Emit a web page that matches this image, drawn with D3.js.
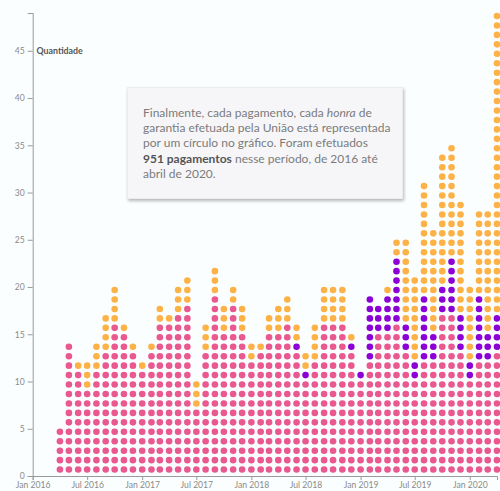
<!DOCTYPE html>
<html><head><meta charset="utf-8">
<script src="https://cdn.jsdelivr.net/npm/d3@7"></script>
<style>
html,body{margin:0;padding:0;background:#fbfefe;}
#wrap{position:relative;width:500px;height:491px;overflow:hidden;}
svg{position:absolute;left:0;top:0;}
.note{position:absolute;left:127px;top:87px;width:276px;height:112px;box-sizing:border-box;
  background:#f6f6f9;border:1px solid #ececf0;box-shadow:1px 2px 3px rgba(0,0,0,0.28);
  padding:17px 0 0 15px;font-family:Lato,"Open Sans",sans-serif;font-size:12px;line-height:15.2px;color:#7b7b7b;white-space:nowrap;}
.note b{color:#555;font-weight:700;}
.axis text{font-family:Lato,"Open Sans",sans-serif;font-size:8.6px;fill:#8a8a8a;}
.axis path,.axis line{stroke:#9a9a9a;}
</style></head>
<body><div id="wrap"></div>
<script>
// ---- data ----
const months = ["2016-04","2016-05","2016-06","2016-07","2016-08","2016-09","2016-10","2016-11","2016-12",
  "2017-01","2017-02","2017-03","2017-04","2017-05","2017-06","2017-07","2017-08","2017-09","2017-10","2017-11","2017-12",
  "2018-01","2018-02","2018-03","2018-04","2018-05","2018-06","2018-07","2018-08","2018-09","2018-10","2018-11","2018-12",
  "2019-01","2019-02","2019-03","2019-04","2019-05","2019-06","2019-07","2019-08","2019-09","2019-10","2019-11","2019-12",
  "2020-01","2020-02","2020-03","2020-04"];
// stacked segments from the bottom: p = pink, u = purple, o = orange, followed by count
const stacks = ["p5","p14","p11 o1","p9 o3","p11 o3","p13 o4","p16 o4","p15 o1","p13 o1",
  "p11 o1","p13 o1","p16 o2","p16 o1","p17 o3","p18 o3","p7 o3","p13 o3","p19 o3","p15 o3","p18 o2","p15 o3",
  "p12 o2","p13 o1","p15 o2","p15 o3","p16 o3","p13 u1 o2","p10 u1 o2","p12 o4","p16 o4","p16 o4","p16 o4","p13 u1 o1",
  "p10 u1","p12 u7","p15 u3","p15 u4 o1","p16 u7 o2","p13 u3 o9","p10 u2 o9","p12 u7 o12","p12 u3 o11","p17 u3 o14","p17 u6 o12","p13 u4 o12",
  "p10 u2 o8","p12 u7 o9","p12 u3 o13","p13 u4 o32"];
const colorOf = {p:"#e9588f", u:"#8b00d6", o:"#fdb247"};
const yTicks = [0,5,10,15,20,25,30,35,40,45];
const yLabel = "Quantidade";

// ---- chart ----
const W = 500, H = 491;
const parse = d3.timeParse("%Y-%m");
const x = d3.scaleTime().domain([new Date(2016,0,1), new Date(2020,3,1)]).range([32.7, 497]);
const y = d3.scaleLinear().domain([0,49]).range([476,13]);

const wrap = d3.select("#wrap");
const svg = wrap.append("svg").attr("width",W).attr("height",H);

const dots = [];
months.forEach((m,i) => {
  let k = 0;
  stacks[i].split(" ").forEach(s => {
    const c = s[0], n = +s.slice(1);
    for (let j=0;j<n;j++){ dots.push({date:parse(m), idx:k, c}); k++; }
  });
});

svg.append("g").selectAll("circle").data(dots).join("circle")
  .attr("cx", d => x(d.date))
  .attr("cy", d => y(d.idx + 0.68))
  .attr("r", 3.3)
  .attr("fill", d => colorOf[d.c]);

svg.append("g").attr("class","axis").attr("transform",`translate(0,${y(0)})`)
  .call(d3.axisBottom(x).ticks(d3.timeMonth.every(6)).tickFormat(d3.timeFormat("%b %Y")).tickSize(4).tickPadding(2).tickSizeOuter(4));
svg.append("g").attr("class","axis").attr("transform",`translate(${x.range()[0]},0)`)
  .call(d3.axisLeft(y).tickValues(yTicks).tickSize(5).tickPadding(3).tickSizeOuter(5));

svg.append("text").attr("x", 36.5).attr("y", y(45)).attr("dy","0.35em")
  .style("font-family","Lato,'Open Sans',sans-serif").style("font-size","8.8px").style("font-weight","700")
  .style("fill","#555").text(yLabel);

wrap.append("div").attr("class","note")
  .html("Finalmente, cada pagamento, cada <i>honra</i> de<br>garantia efetuada pela União está representada<br>por um círculo no gráfico. Foram efetuados<br><b>951 pagamentos</b> nesse período, de 2016 até<br>abril de 2020.");
</script>
</body></html>
